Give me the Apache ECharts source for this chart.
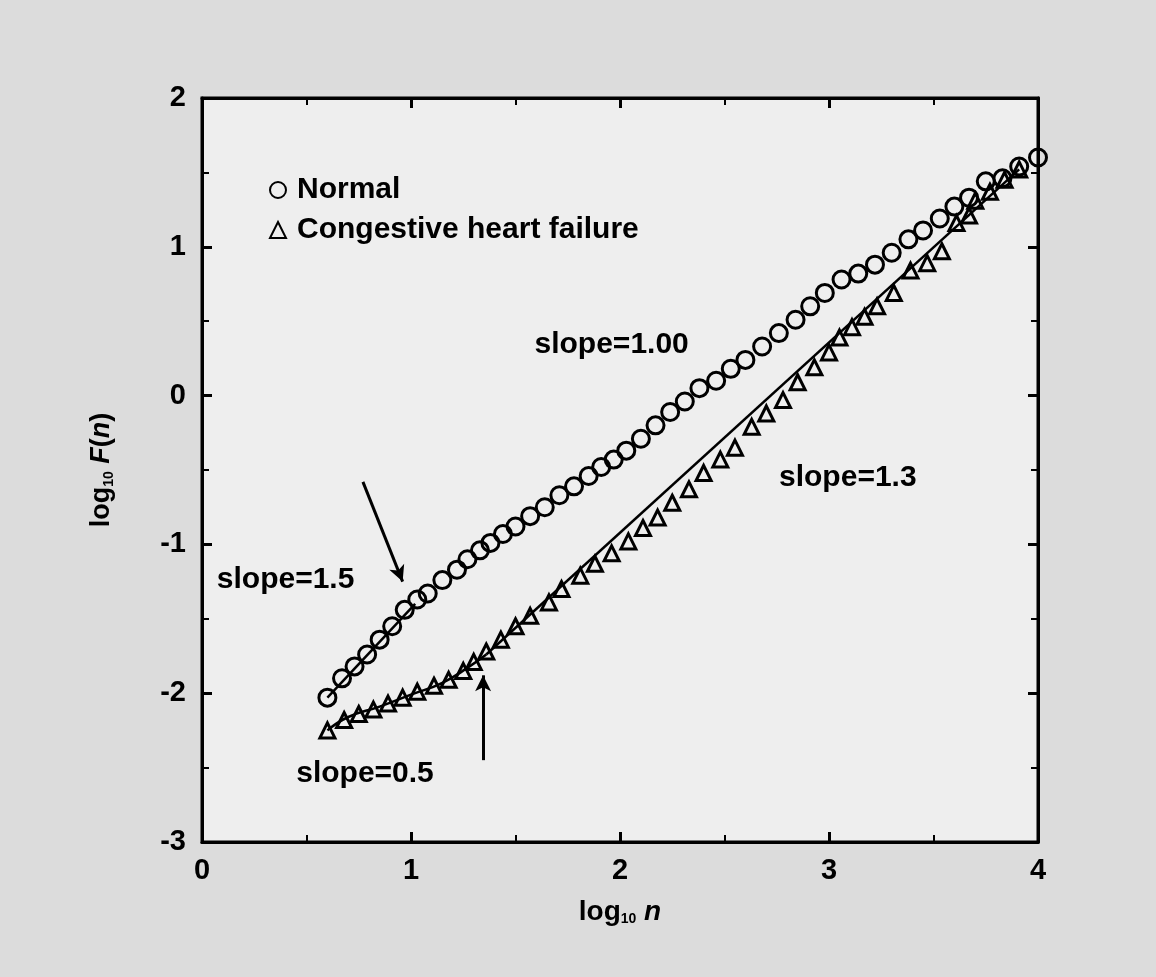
<!DOCTYPE html>
<html>
<head>
<meta charset="utf-8">
<script src="https://cdn.jsdelivr.net/npm/echarts@6/dist/echarts.min.js"></script>
<style>
html,body{margin:0;padding:0;background:#dcdcdc;}
#chart{width:1156px;height:977px;}
</style>
</head>
<body>
<div id="chart"></div>
<script>
// ---- data ----
const xTicks = [0, 1, 2, 3, 4];
const yTicks = [-3, -2, -1, 0, 1, 2];

const normalX = [0.60,0.67,0.73,0.79,0.85,0.91,0.97,1.03,1.08,1.15,1.22,1.27,1.33,1.38,1.44,1.50,1.57,1.64,1.71,1.78,1.85,1.91,1.97,2.03,2.10,2.17,2.24,2.31,2.38,2.46,2.53,2.60,2.68,2.76,2.84,2.91,2.98,3.06,3.14,3.22,3.30,3.38,3.45,3.53,3.60,3.67,3.75,3.83,3.91,4.00];
const normalY = [-2.03,-1.90,-1.82,-1.74,-1.64,-1.55,-1.44,-1.37,-1.33,-1.24,-1.17,-1.10,-1.04,-0.99,-0.93,-0.88,-0.81,-0.75,-0.67,-0.61,-0.54,-0.48,-0.43,-0.37,-0.29,-0.20,-0.11,-0.04,0.05,0.10,0.18,0.24,0.33,0.42,0.51,0.60,0.69,0.78,0.82,0.88,0.96,1.05,1.11,1.19,1.27,1.33,1.44,1.46,1.54,1.60];

const chfX = [0.60,0.68,0.75,0.82,0.89,0.96,1.03,1.11,1.18,1.25,1.30,1.36,1.43,1.50,1.57,1.66,1.72,1.81,1.88,1.96,2.04,2.11,2.18,2.25,2.33,2.40,2.48,2.55,2.63,2.70,2.78,2.85,2.93,3.00,3.05,3.11,3.17,3.23,3.31,3.39,3.47,3.54,3.61,3.67,3.70,3.77,3.84,3.91];
const chfY = [-2.25,-2.18,-2.14,-2.11,-2.07,-2.03,-1.99,-1.95,-1.91,-1.85,-1.79,-1.72,-1.64,-1.55,-1.48,-1.39,-1.30,-1.21,-1.13,-1.06,-0.98,-0.89,-0.82,-0.72,-0.63,-0.52,-0.43,-0.35,-0.21,-0.12,-0.03,0.09,0.19,0.29,0.39,0.46,0.53,0.60,0.69,0.84,0.89,0.97,1.16,1.21,1.31,1.37,1.45,1.52];

// fitted lines
const normalFit1 = [[0.60,-2.03],[1.02,-1.40]];
const chfFit1 = [[0.60,-2.25],[0.70,-2.16],[0.85,-2.09],[1.00,-2.01],[1.15,-1.93],[1.28,-1.82],[1.36,-1.74]];
const chfFit2 = [[1.36,-1.74],[3.91,1.52]];

// annotations
const annotations = [
  [1.96, 0.34, 'slope=1.00'],
  [3.09, -0.55, 'slope=1.3'],
  [0.40, -1.24, 'slope=1.5'],
  [0.78, -2.54, 'slope=0.5']
];
const arrows = [
  [[0.77, -0.58], [0.96, -1.25]],
  [[1.345, -2.45], [1.345, -1.88]]
];

const pts = (xs, ys) => xs.map((x, i) => [x, ys[i]]);
const FONT = 'Liberation Sans, Arial, sans-serif';

const chart = echarts.init(document.getElementById('chart'), null, {renderer: 'canvas'});

const axisCommon = {
  min: 0, max: 4, interval: 1,
  axisLine: {show: true, onZero: false, lineStyle: {color: '#000', width: 3}},
  axisTick: {show: true, inside: true, length: 10, lineStyle: {color: '#000', width: 3}},
  minorTick: {show: true, splitNumber: 2, length: 7, lineStyle: {color: '#000', width: 2}},
  splitLine: {show: false}
};

const option = {
  backgroundColor: '#dcdcdc',
  animation: false,
  grid: {left: 202, right: 118, top: 98, bottom: 135, show: true, backgroundColor: '#eeeeee', borderColor: '#000', borderWidth: 3},
  legend: {
    data: ['Normal', 'Congestive heart failure'],
    orient: 'vertical', left: 264, top: 170, itemGap: 10,
    itemWidth: 16, itemHeight: 16,
    textStyle: {fontFamily: FONT, fontWeight: 'bold', fontSize: 30, color: '#000', padding: [0, 0, 0, 6]}
  },
  xAxis: [
    Object.assign({}, axisCommon, {
      type: 'value', position: 'bottom',
      axisLabel: {show: true, margin: 14, fontFamily: FONT, fontWeight: 'bold', fontSize: 29, color: '#000',
        formatter: v => xTicks.includes(v) ? String(v) : ''},
      name: '{a|log}{s|10}{a| }{i|n}',
      nameLocation: 'middle', nameGap: 56,
      nameTextStyle: {rich: {
        a: {fontFamily: FONT, fontWeight: 'bold', fontSize: 28, color: '#000'},
        s: {fontFamily: FONT, fontWeight: 'bold', fontSize: 14, color: '#000', padding: [14, 0, 0, 0]},
        i: {fontFamily: FONT, fontWeight: 'bold', fontStyle: 'italic', fontSize: 28, color: '#000'}
      }}
    }),
    Object.assign({}, axisCommon, {type: 'value', position: 'top', axisLabel: {show: false}})
  ],
  yAxis: [
    Object.assign({}, axisCommon, {
      type: 'value', position: 'left', min: -3, max: 2, interval: 1,
      axisLabel: {show: true, margin: 16, fontFamily: FONT, fontWeight: 'bold', fontSize: 29, color: '#000',
        formatter: v => yTicks.includes(v) ? String(v) : ''},
      name: '{a|log}{s|10}{a| }{i|F}{a|(}{i|n}{a|)}',
      nameLocation: 'middle', nameGap: 86, nameRotate: 90,
      nameTextStyle: {rich: {
        a: {fontFamily: FONT, fontWeight: 'bold', fontSize: 27, color: '#000'},
        s: {fontFamily: FONT, fontWeight: 'bold', fontSize: 14, color: '#000', padding: [14, 0, 0, 0]},
        i: {fontFamily: FONT, fontWeight: 'bold', fontStyle: 'italic', fontSize: 27, color: '#000'}
      }}
    }),
    Object.assign({}, axisCommon, {type: 'value', position: 'right', min: -3, max: 2, interval: 1, axisLabel: {show: false}})
  ],
  series: [
    {
      name: 'Normal', type: 'scatter', data: pts(normalX, normalY),
      symbol: 'circle', symbolSize: 17, z: 5,
      itemStyle: {color: 'rgba(0,0,0,0)', borderColor: '#000', borderWidth: 3, opacity: 1}
    },
    {
      name: 'Congestive heart failure', type: 'scatter', data: pts(chfX, chfY),
      symbol: 'triangle', symbolSize: 15, z: 5,
      itemStyle: {color: 'rgba(0,0,0,0)', borderColor: '#000', borderWidth: 3, opacity: 1}
    },
    {type: 'line', data: normalFit1, showSymbol: false, lineStyle: {color: '#000', width: 2.5}, z: 3},
    {type: 'line', data: chfFit1, showSymbol: false, smooth: true, lineStyle: {color: '#000', width: 2.5}, z: 3},
    {type: 'line', data: chfFit2, showSymbol: false, lineStyle: {color: '#000', width: 2.5}, z: 3,
      markLine: {
        silent: true, symbol: ['none', 'arrow'], symbolSize: [12, 16],
        lineStyle: {color: '#000', width: 3, type: 'solid'},
        label: {show: false},
        data: arrows.map(a => [{coord: a[0]}, {coord: a[1]}])
      }
    },
    {
      type: 'scatter', symbolSize: 0, silent: true,
      itemStyle: {opacity: 1},
      data: annotations.map(a => ({value: [a[0], a[1]], name: a[2]})),
      label: {show: true, position: 'inside', formatter: p => p.name,
        fontFamily: FONT, fontWeight: 'bold', fontSize: 30, color: '#000'}
    }
  ]
};
chart.setOption(option);
</script>
</body>
</html>
